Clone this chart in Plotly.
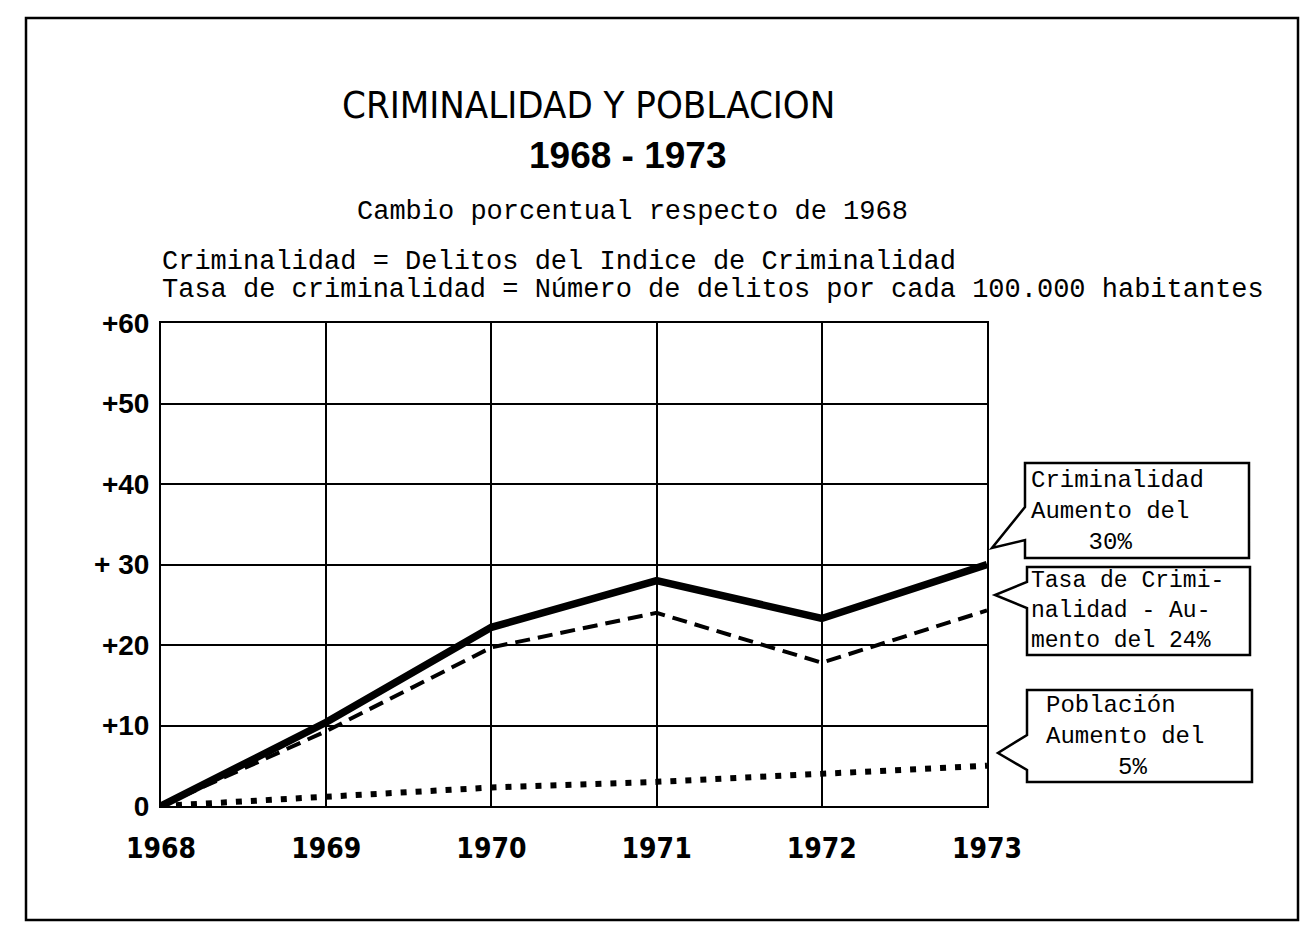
import plotly.graph_objects as go

years = [1968, 1969, 1970, 1971, 1972, 1973]
criminalidad = [0, 10.4, 22.2, 28.0, 23.3, 30.0]
tasa = [0, 9.3, 19.7, 24.0, 17.8, 24.3]
poblacion = [0, 1.1, 2.3, 3.0, 4.0, 5.0]

y_tickvals = [0, 10, 20, 30, 40, 50, 60]
y_ticktext = ["0", "+10", "+20", "+ 30", "+40", "+50", "+60"]
x_ticktext = ["1968", "1969", "1970", "1971", "1972", "1973"]

# page has an 8px body margin: figure drawn 8px in from the window corner
OFF = 8
W, H = 1313 - 2 * OFF, 933 - 2 * OFF
L, R, T, B = 161, 987, 323, 806   # plot area in window pixels

def px(x):
    return (x - L) / (R - L)

def py(y):
    return (B - y) / (B - T)

MONO = "Liberation Mono, Courier New, monospace"
COND = "DejaVu Sans Condensed, Liberation Sans Narrow, Liberation Sans, sans-serif"
BOLD = "Liberation Sans, Arial, sans-serif"

fig = go.Figure()
fig.add_trace(go.Scatter(x=years, y=poblacion, mode="lines",
                         line=dict(color="black", width=6, dash="6px,9px")))
fig.add_trace(go.Scatter(x=years, y=tasa, mode="lines",
                         line=dict(color="black", width=4, dash="15px,8px")))
fig.add_trace(go.Scatter(x=years, y=criminalidad, mode="lines",
                         line=dict(color="black", width=7.5)))

annotations = []
def txt(text, x, y, size, font, xanchor="left", bold=False, align="left"):
    if bold:
        text = "<b>" + text + "</b>"
    annotations.append(dict(text=text, x=px(x), y=py(y), xref="paper", yref="paper",
                            xanchor=xanchor, yanchor="middle", showarrow=False, align=align,
                            font=dict(family=font, size=size, color="black")))

NB = "\u00a0"
txt("CRIMINALIDAD Y POBLACION", 588, 105, 38, COND, xanchor="center")
txt("1968 - 1973", 628, 155, 37, BOLD, xanchor="center", bold=True)
txt("Cambio porcentual respecto de 1968", 355, 212, 27, MONO)
txt("Criminalidad = Delitos del Indice de Criminalidad", 160, 262, 27, MONO)
txt("Tasa de criminalidad = Número de delitos por cada 100.000 habitantes", 160, 290, 27, MONO)

# callout texts
txt("Criminalidad<br>Aumento del<br>" + NB * 4 + "30%", 1029, 511, 24, MONO)
txt("Tasa de Crimi-<br>nalidad - Au-<br>mento del 24%", 1029, 611, 23, MONO)
txt("Población<br>Aumento del<br>" + NB * 5 + "5%", 1044, 736, 24, MONO)

shapes = []
def callout(x0, y0, x1, y1, g0, g1, tx, ty):
    pts = [(x0, y0), (x1, y0), (x1, y1), (x0, y1), (x0, g1), (tx, ty), (x0, g0)]
    path = "M " + " L ".join(f"{px(a):.5f},{py(b):.5f}" for a, b in pts) + " Z"
    shapes.append(dict(type="path", path=path, xref="paper", yref="paper",
                       line=dict(color="black", width=2.5), fillcolor="rgba(0,0,0,0)"))

callout(1025, 463, 1249, 558, 507, 540, 992, 548)
callout(1027, 567, 1250, 655, 582, 608, 995, 595)
callout(1027, 690, 1252, 782, 735, 770, 998, 753)

# outer frame
shapes.append(dict(type="rect", xref="paper", yref="paper",
                   x0=px(26), x1=px(1298), y0=py(920), y1=py(18),
                   line=dict(color="black", width=2.5)))

fig.update_layout(
    width=W, height=H,
    margin=dict(l=L - OFF, r=W - (R - OFF), t=T - OFF, b=H - (B - OFF), pad=0),
    paper_bgcolor="white", plot_bgcolor="white",
    showlegend=False,
    annotations=annotations,
    shapes=shapes,
    xaxis=dict(range=[1968, 1973], tickvals=years,
               ticktext=["<b>" + t + "</b>" for t in x_ticktext],
               showgrid=True, gridcolor="black", gridwidth=1.5,
               showline=True, mirror=True, linecolor="black", linewidth=2,
               zeroline=False, ticks="", ticklabelstandoff=16,
               tickfont=dict(family=COND, size=28, color="black")),
    yaxis=dict(range=[0, 60], tickvals=y_tickvals,
               ticktext=["<b>" + t + "</b>" for t in y_ticktext],
               showgrid=True, gridcolor="black", gridwidth=1.5,
               showline=True, mirror=True, linecolor="black", linewidth=2,
               zeroline=False, ticks="", ticklabelstandoff=4,
               tickfont=dict(family=BOLD, size=28, color="black")),
)

fig.write_html("out.html")
